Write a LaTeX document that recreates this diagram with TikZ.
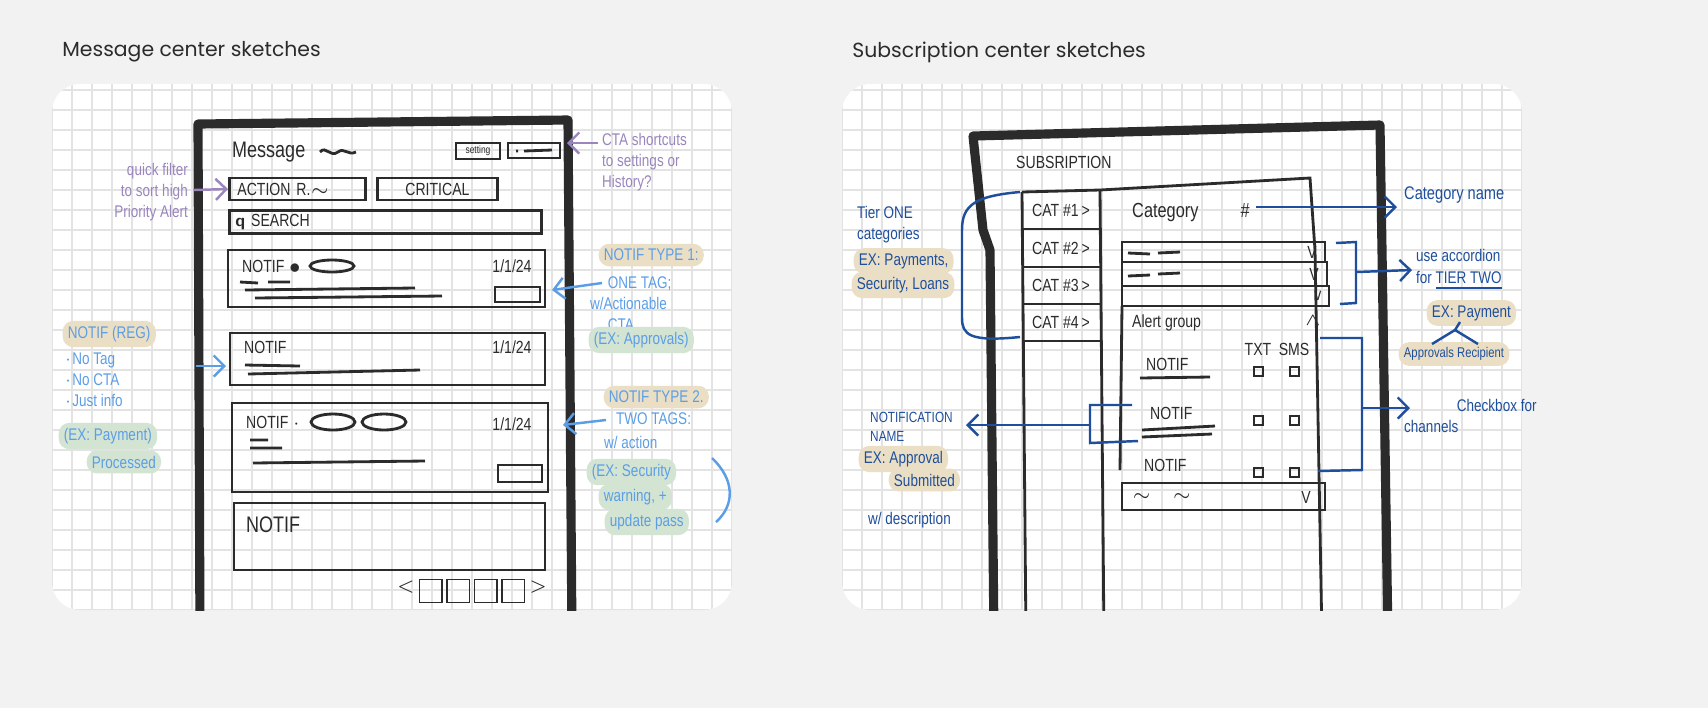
\documentclass[tikz,border=0pt]{standalone}
\usepackage{fontspec}
\setmainfont{Poppins}
\newfontfamily\hand{Liberation Sans}[FakeStretch=0.8]
\usetikzlibrary{arrows.meta}
\definecolor{bgc}{HTML}{F2F2F2}
\definecolor{gridc}{HTML}{E3E3E3}
\definecolor{ink}{HTML}{2B2B2B}
\definecolor{lilac}{HTML}{9A86BC}
\definecolor{sky}{HTML}{5C9EE6}
\definecolor{navy}{HTML}{1F4F9C}
\definecolor{tan}{HTML}{EADFC5}
\definecolor{sage}{HTML}{D3E4D3}
\tikzset{
  frame/.style={draw=ink,line width=2.6pt,line join=round},
  box/.style={draw=ink,line width=0.8pt},
  sk/.style={font=\hand\fontsize{5}{6}\selectfont,text=ink,inner sep=1pt},
  note/.style={font=\hand\fontsize{4.8}{6}\selectfont,inner sep=1pt,anchor=west},
  hl/.style={fill=#1,rounded corners=3pt,inner sep=1.5pt},
  arr/.style={line width=0.7pt,-{Straight Barb[length=3pt]}},
}
\begin{document}
\begin{tikzpicture}[x=0.01cm,y=-0.01cm]
    \fill[bgc] (0,0) rectangle (1708,708);
    \node[anchor=west,font=\fontsize{5.8}{7}\selectfont,text=ink] at (50,52) {Message center sketches};
    \node[anchor=west,font=\fontsize{5.8}{7}\selectfont,text=ink] at (840,52) {Subscription center sketches};
    % grid panels
    \foreach \px in {52,842} {
    \begin{scope}
    \clip[rounded corners=8pt] (\px,84) rectangle (\px+680,610);
    \fill[white] (\px,84) rectangle (\px+680,610);
    \foreach \gx in {0,20,...,680} \draw[gridc,line width=0.3pt] (\px+\gx,84) -- (\px+\gx,610);
    \foreach \gy in {90,110,...,610} \draw[gridc,line width=0.3pt] (\px,\gy) -- (\px+680,\gy);
    \end{scope}
    }
    % ---------- message center ----------
    \begin{scope}
    \clip (52,84) rectangle (732,610);
    \draw[frame] (200,640) -- (198,124) -- (568,120) -- (572,640);
    \node[sk,anchor=west,font=\hand\fontsize{6.4}{8}\selectfont] (msg) at (228,152) {Message};
    \draw[box] (320,152) .. controls (326,145) and (330,158) .. (338,152) .. controls (344,147) and (348,156) .. (356,152);
    \node[box,sk,font=\hand\fontsize{3}{4}\selectfont,minimum width=0.44cm,minimum height=0.16cm,inner sep=0.5pt] (setting) at (478,151) {setting};
    \draw[box] (508,143) rectangle (560,158);
    \draw[box] (516,151) -- (518,151) (524,151) -- (552,150);
    \node[box,sk,anchor=west,minimum width=1.36cm,minimum height=0.22cm,text width=1.2cm] (action) at (228,189) {ACTION R.$\sim$};
    \node[box,sk,anchor=west,minimum width=1.2cm,minimum height=0.22cm] (critical) at (376,189) {CRITICAL};
    \node[box,sk,anchor=west,minimum width=3.12cm,minimum height=0.2cm,text width=3cm] (search) at (228,222) {\textbf{\textsf{q}} SEARCH};
    % notif cards
    \draw[box] (228,250) rectangle (545,307);
    \node[sk,anchor=west] (n1) at (238,266) {NOTIF $\bullet$};
    \draw[box] (332,266) ellipse (22 and 6);
    \node[sk] (d1) at (512,266) {1/1/24};
    \draw[box] (240,282) -- (258,283) (268,282) -- (290,282) (245,290) -- (415,288) (255,298) -- (442,296);
    \draw[box] (495,287) rectangle (540,302);
    \draw[box] (230,333) rectangle (545,385);
    \node[sk,anchor=west] (n2) at (240,347) {NOTIF};
    \node[sk] (d2) at (512,347) {1/1/24};
    \draw[box] (245,365) -- (300,366) (248,374) -- (420,370);
    \draw[box] (232,403) rectangle (548,492);
    \node[sk,anchor=west] (n3) at (242,422) {NOTIF $\cdot$};
    \draw[box] (333,422) ellipse (22 and 8) (384,422) ellipse (22 and 8);
    \node[sk] (d3) at (512,424) {1/1/24};
    \draw[box] (250,440) -- (268,440) (250,448) -- (282,448) (253,463) -- (425,461);
    \draw[box] (498,465) rectangle (542,482);
    \draw[box] (234,503) rectangle (545,570);
    \node[sk,anchor=west,font=\hand\fontsize{6.4}{8}\selectfont] (n4) at (242,525) {NOTIF};
    \node[sk,font=\hand\fontsize{4}{5}\selectfont] (pager) at (472,591) {$<$\hspace{1pt}\framebox{}\hspace{1pt}\framebox{}\hspace{1pt}\framebox{}\hspace{1pt}\framebox{}\hspace{1pt}$>$};
    \end{scope}
    % purple notes
    \node[note,text=lilac,anchor=east,align=right] (filt) at (192,192) {quick filter\\to sort high\\Priority Alert};
    \coordinate (filtend) at (194,190);
    \draw[lilac,arr] (filtend) -- (action.west);
    \node[note,text=lilac,align=left] (cta) at (598,162) {CTA shortcuts\\to settings or\\History?};
    \coordinate (ctaend) at (598,143);
    \draw[lilac,arr] (ctaend) -- (567,143);
    % blue notes left
    \node[note,text=sky,hl=tan] (reg) at (62,334) {NOTIF (REG)};
    \node[note,text=sky,align=left] (reglist) at (60,380) {$\cdot$No Tag\\$\cdot$No CTA\\$\cdot$Just info};
    \node[note,text=sky,hl=sage] (regex) at (58,436) {(EX: Payment)};
    \node[note,text=sky,hl=sage] (regex2) at (86,462) {Processed};
    \coordinate (regend) at (196,366);
    \draw[sky,arr] (regend) -- (226,366);
    % blue notes right
    \node[note,text=sky,hl=tan] (t1) at (598,255) {NOTIF TYPE 1:};
    \node[note,text=sky,align=left] (t1b) at (586,304) {\hspace{5pt}ONE TAG;\\w/Actionable\\\hspace{5pt}CTA.};
    \node[note,text=sky,hl=sage] (t1c) at (588,340) {(EX: Approvals)};
    \coordinate (t1end) at (602,283);
    \draw[sky,arr] (t1end) -- (552,290);
    \node[note,text=sky,hl=tan] (t2) at (603,397) {NOTIF TYPE 2.};
    \node[note,text=sky] (t2b) at (612,419) {TWO TAGS:};
    \node[note,text=sky] (t2c) at (600,442) {w/ action};
    \node[note,text=sky,hl=sage] (t2d) at (586,472) {(EX: Security};
    \node[note,text=sky,hl=sage] (t2e) at (598,497) {warning, +};
    \node[note,text=sky,hl=sage] (t2f) at (604,522) {update pass};
    \coordinate (t2end) at (606,420);
    \draw[sky,arr] (t2end) -- (563,425);
    \draw[sky,line width=0.7pt] (712,458) .. controls (735,480) and (735,505) .. (716,522);
    % ---------- subscription center ----------
    \begin{scope}
    \clip (842,84) rectangle (1522,610);
    \draw[frame] (994,640) -- (990,250) -- (983,230) -- (973,136) -- (1380,125) -- (1382,250) -- (1388,640);
    \node[sk,anchor=west] (sub) at (1012,162) {SUBSRIPTION};
    \draw[box] (1022,192) -- (1100,190) -- (1310,178) -- (1315,250) -- (1322,640);
    \draw[box] (1022,192) -- (1026,640) (1100,190) -- (1104,640);
    \foreach \ry/\lab in {210/1,248/2,285/3,322/4} {
      \node[sk] (cat\lab) at (1061,\ry) {CAT \#\lab\,\textgreater};
      \draw[box] (1022,\ry+19) -- (1102,\ry+19);
    }
    \node[sk,anchor=west,font=\hand\fontsize{5.8}{7}\selectfont] (catname) at (1128,212) {Category\hspace{12pt}\#};
    \draw[box] (1122,242) rectangle (1325,262);
    \draw[box] (1122,262) rectangle (1327,286);
    \draw[box] (1122,286) rectangle (1329,306);
    \draw[box] (1128,253) -- (1150,254) (1158,253) -- (1180,252) (1128,276) -- (1150,275) (1158,274) -- (1180,273);
    \node[sk] (v1) at (1312,252) {V};
    \node[sk] (v2) at (1314,274) {V};
    \node[sk] (v3) at (1318,296) {v};
    \draw[box] (1122,306) -- (1120,470);
    \node[sk,anchor=west] (alert) at (1128,323) {Alert group};
    \node[sk] (caret) at (1313,321) {$\wedge$};
    \node[sk] (txt) at (1258,349) {TXT};
    \node[sk] (sms) at (1294,349) {SMS};
    \foreach \ny/\nx/\nn in {364/1142/a,413/1146/b,465/1140/c} {
      \node[sk,anchor=west] (notif\nn) at (\nx,\ny) {NOTIF};
      \draw[box] (1254,\ny+3) rectangle +(9,9);
      \draw[box] (1290,\ny+3) rectangle +(9,9);
    }
    \draw[box] (1140,378) -- (1210,377) (1142,430) -- (1215,426) (1142,437) -- (1212,434);
    \draw[box] (1122,483) rectangle (1325,510);
    \node[sk,anchor=west] (lastrow) at (1128,497) {$\sim$\hspace{6pt}$\sim$};
    \node[sk] (v4) at (1306,497) {V};
    \end{scope}
    % navy notes
    \node[note,text=navy,font=\hand\fontsize{5.2}{6}\selectfont] (cname) at (1400,195) {Category name};
    \coordinate (cstart) at (1256,207);
    \draw[navy,arr] (cstart) -- (1397,207);
    \draw[navy,line width=0.7pt] (1336,243) -- (1356,242) -- (1356,303) -- (1340,304);
    \node[note,text=navy,align=left] (acc) at (1412,270) {use accordion\\for \underline{TIER TWO}};
    \coordinate (accfrom) at (1356,272);
    \draw[navy,arr] (accfrom) -- (acc.west);
    \node[note,text=navy,hl=tan] (exp) at (1426,313) {EX: Payment};
    \node[note,text=navy,hl=tan,font=\hand\fontsize{4}{5}\selectfont] (rec) at (1398,354) {Approvals Recipient};
    \coordinate (fork) at (1455,330);
    \draw[navy,line width=0.7pt] (1460,322) -- (fork) -- (1432,344) (fork) -- (1478,344);
    \draw[navy,line width=0.7pt] (1320,338) -- (1362,338) -- (1362,470) -- (1318,471);
    \node[note,text=navy,align=left] (chk) at (1400,416) {\hspace{15pt}Checkbox for\\channels};
    \coordinate (chkfrom) at (1362,408);
    \draw[navy,arr] (chkfrom) -- (1410,408);
    \draw[navy,line width=0.7pt] (1020,192) .. controls (975,196) and (962,205) .. (962,230) -- (962,318) .. controls (962,335) and (970,342) .. (1020,337);
    \node[note,text=navy,align=left] (tier) at (853,225) {Tier ONE\\categories};
    \node[note,text=navy,hl=tan] (tex) at (853,261) {EX: Payments,};
    \node[note,text=navy,hl=tan] (tex2) at (851,285) {Security, Loans};
    \draw[navy,line width=0.7pt] (1132,405) -- (1090,405) -- (1090,443) -- (1138,441);
    \node[note,text=navy,align=left,font=\hand\fontsize{4.2}{5.5}\selectfont] (nname) at (866,427) {NOTIFICATION\\NAME};
    \coordinate (nfrom) at (1090,425);
    \draw[navy,arr] (nfrom) -- (966,425);
    \node[note,text=navy,hl=tan] (nex) at (858,459) {EX: Approval};
    \node[note,text=navy,hl=tan] (nex2) at (888,480) {Submitted};
    \node[note,text=navy] (desc) at (864,520) {w/ description};
\end{tikzpicture}
\end{document}
